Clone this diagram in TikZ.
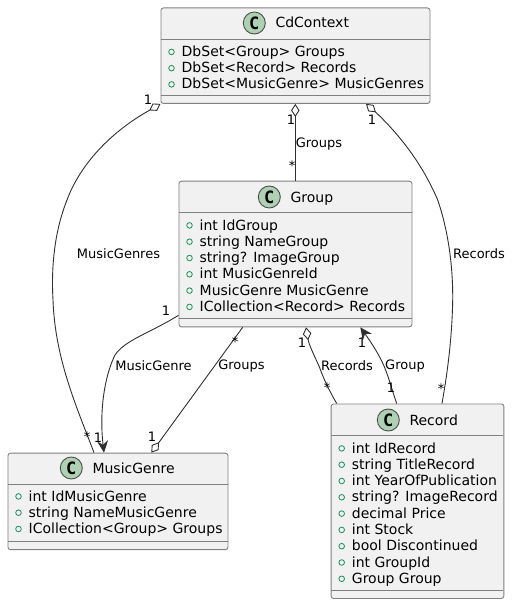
\documentclass[tikz,border=0pt]{standalone}
\usepackage{fontspec}
\setmainfont{DejaVu Sans}
\setmonofont{DejaVu Sans Mono}
\usetikzlibrary{arrows.meta}
\definecolor{boxfill}{HTML}{F1F1F1}
\definecolor{boxline}{HTML}{808080}
\definecolor{edgeline}{HTML}{303030}
\definecolor{spot}{HTML}{ADD1B2}
\definecolor{vis}{HTML}{1A8F5C}
\tikzset{
  classbox/.style={draw=boxline,fill=boxfill,line width=0.9pt,rounded corners=2.5pt,anchor=north west,inner sep=0pt},
  sep/.style={draw=boxline,line width=0.9pt},
  spotc/.style={circle,draw=boxline!60!black,fill=spot,line width=0.9pt,minimum size=22pt,inner sep=0pt,font=\fontsize{17}{17}\ttfamily\bfseries},
  title/.style={anchor=base west,inner sep=0pt,font=\fontsize{14}{16}\selectfont,text=black},
  mem/.style={anchor=base west,inner sep=0pt,font=\fontsize{14}{16}\selectfont,text=black},
  visc/.style={circle,draw=vis,fill=none,line width=0.8pt,minimum size=5.6pt,inner sep=0pt},
  lab/.style={inner sep=0pt,font=\fontsize{13}{15}\selectfont,text=black},
  edge/.style={draw=edgeline,line width=0.9pt},
  agg/.style={edge,{Diamond[open,length=13pt,width=8.5pt,line width=0.9pt]}-},
  nav/.style={edge,-{Stealth[length=12pt,width=11pt,inset=4pt]}}
}
\newcommand{\umember}[4]{%
  \node[visc] (#1v) at (#2+11,#3-4.6) {};
  \node[mem] (#1t) at (#2+21,#3) {#4};}
\begin{document}
\begin{tikzpicture}[x=1pt,y=-1pt]
\useasboundingbox (0,0) rectangle (512,604);

% CdContext
\node[classbox,minimum width=269pt,minimum height=95.5pt] (cd) at (160.5,7.5) {};
\draw[sep] (160.5,39.5) -- (429.5,39.5);
\draw[sep] (160.5,95.5) -- (429.5,95.5);
\node[spotc] (cdc) at (254.3,23) {C};
\node[title] (cdn) at (275.3,28) {CdContext};
\umember{cda}{160.5}{56.5}{DbSet<Group> Groups}
\umember{cdb}{160.5}{72.8}{DbSet<Record> Records}
\umember{cdd}{160.5}{89}{DbSet<MusicGenre> MusicGenres}

% Group
\node[classbox,minimum width=233pt,minimum height=145.7pt] (gr) at (178.5,180.7) {};
\draw[sep] (178.5,212.5) -- (411.5,212.5);
\draw[sep] (178.5,318.3) -- (411.5,318.3);
\node[spotc] (grc) at (269.3,197) {C};
\node[title] (grn) at (290.3,202) {Group};
\umember{gra}{178.5}{230}{int IdGroup}
\umember{grb}{178.5}{246.3}{string NameGroup}
\umember{grd}{178.5}{262.6}{string? ImageGroup}
\umember{gre}{178.5}{278.9}{int MusicGenreId}
\umember{grf}{178.5}{295.2}{MusicGenre MusicGenre}
\umember{grg}{178.5}{311.5}{ICollection<Record> Records}

% MusicGenre
\node[classbox,minimum width=220pt,minimum height=96.5pt] (mg) at (7.5,452.7) {};
\draw[sep] (7.5,484) -- (227.5,484);
\draw[sep] (7.5,541.3) -- (227.5,541.3);
\node[spotc] (mgc) at (71.3,468) {C};
\node[title] (mgn) at (92.3,473) {MusicGenre};
\umember{mga}{7.5}{501}{int IdMusicGenre}
\umember{mgb}{7.5}{517.3}{string NameMusicGenre}
\umember{mgd}{7.5}{533.6}{ICollection<Group> Groups}

% Record
\node[classbox,minimum width=172.7pt,minimum height=194.5pt] (re) at (330.7,403.5) {};
\draw[sep] (330.7,435.7) -- (503.4,435.7);
\draw[sep] (330.7,590.7) -- (503.4,590.7);
\node[spotc] (rec) at (388.3,420) {C};
\node[title] (ren) at (409.3,425) {Record};
\umember{rea}{330.7}{453}{int IdRecord}
\umember{reb}{330.7}{469.3}{string TitleRecord}
\umember{red}{330.7}{485.6}{int YearOfPublication}
\umember{ree}{330.7}{501.9}{string? ImageRecord}
\umember{ref}{330.7}{518.2}{decimal Price}
\umember{reg}{330.7}{534.5}{int Stock}
\umember{reh}{330.7}{550.8}{bool Discontinued}
\umember{rei}{330.7}{567.1}{int GroupId}
\umember{rej}{330.7}{583.4}{Group Group}

% Connectors
\draw[agg] (cd.south west) -- (150,110) .. controls (105,135) and (78,170) .. (67,200)
  .. controls (55,230) and (51,265) .. (53,300)
  .. controls (55,360) and (78,410) .. ([xshift=86.5pt]mg.north west);

\draw[agg] ([xshift=134.8pt]cd.south west) -- ([xshift=116.8pt]gr.north west);

\draw[agg] ([xshift=205.5pt]cd.south west) -- (375.5,112) .. controls (405,140) and (425,170) .. (437.7,200)
  .. controls (448,230) and (453,265) .. (452.7,300)
  .. controls (452,340) and (447,375) .. ([xshift=111.3pt]re.north west);

\draw[nav] ([yshift=12pt]gr.south west) .. controls (150,333) and (125,340) .. (115,355)
  .. controls (105,375) and (99,410) .. ([xshift=96.5pt]mg.north west);

\draw[agg] ([xshift=143.8pt]mg.north west) -- (158.7,442.7) -- ([xshift=64.2pt]gr.south west);

\draw[agg] ([xshift=127.5pt]gr.south west) .. controls (309,345) and (314,355) .. (319.3,366.7)
  .. controls (324,380) and (330,392) .. ([xshift=6pt]re.north west);

\draw[nav] ([xshift=66pt]re.north west) .. controls (392,390) and (389,378) .. (384.3,366.7)
  .. controls (378,352) and (368,338) .. ([xshift=181.8pt]gr.south west);

% Labels
\node[lab] (l1) at (118.5,254) {MusicGenres};
\node[lab] (l2) at (148,99.5) {1};
\node[lab] (l3) at (87,437) {*};
\node[lab] (l4) at (291,119.5) {1};
\node[lab] (l5) at (292,166) {*};
\node[lab] (l6) at (319,144) {Groups};
\node[lab] (l7) at (372,119.5) {1};
\node[lab] (l8) at (441,389) {*};
\node[lab] (l9) at (479,254) {Records};
\node[lab] (l10) at (166,310.5) {1};
\node[lab] (l11) at (98,437.5) {1};
\node[lab] (l12) at (153.5,366) {MusicGenre};
\node[lab] (l13) at (235,342) {*};
\node[lab] (l14) at (241.5,366) {Groups};
\node[lab] (l15) at (152,436.5) {1};
\node[lab] (l16) at (302,342.5) {1};
\node[lab] (l17) at (327,388) {*};
\node[lab] (l18) at (347,366) {Records};
\node[lab] (l19) at (362,342.5) {1};
\node[lab] (l20) at (391,387.5) {1};
\node[lab] (l21) at (405,366) {Group};
\end{tikzpicture}
\end{document}
